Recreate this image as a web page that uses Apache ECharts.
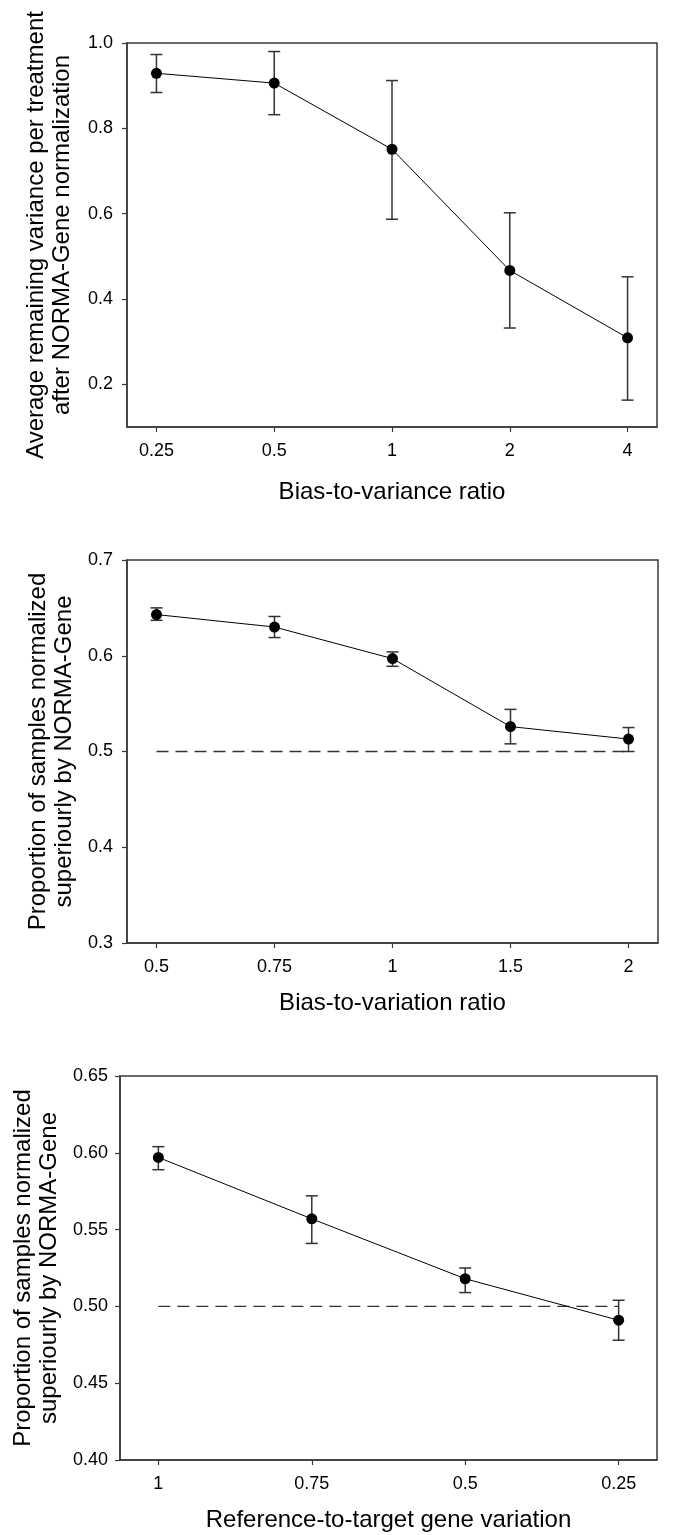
<!DOCTYPE html>
<html><head><meta charset="utf-8">
<script src="https://cdn.jsdelivr.net/npm/echarts@6/dist/echarts.min.js"></script>
<style>html,body{margin:0;padding:0;background:#fff}#c{width:685px;height:1535px}</style>
</head><body><div id="c"></div>
<script>
// Panel 1
const cats1 = ['0.25', '0.5', '1', '2', '4'];
const mean1 = [0.929, 0.906, 0.751, 0.467, 0.309];
const low1  = [0.884, 0.832, 0.587, 0.332, 0.163];
const high1 = [0.973, 0.980, 0.912, 0.602, 0.452];
const yTicks1 = [0.2, 0.4, 0.6, 0.8, 1.0];
// Panel 2
const cats2 = ['0.5', '0.75', '1', '1.5', '2'];
const mean2 = [0.643, 0.630, 0.597, 0.526, 0.513];
const low2  = [0.637, 0.619, 0.589, 0.508, 0.500];
const high2 = [0.650, 0.641, 0.604, 0.544, 0.525];
const yTicks2 = [0.3, 0.4, 0.5, 0.6, 0.7];
// Panel 3
const cats3 = ['1', '0.75', '0.5', '0.25'];
const mean3 = [0.597, 0.557, 0.518, 0.491];
const low3  = [0.589, 0.541, 0.509, 0.478];
const high3 = [0.604, 0.572, 0.525, 0.504];
const yTicks3 = [0.40, 0.45, 0.50, 0.55, 0.60, 0.65];
const refLine = 0.5;

const FONT = "'Liberation Sans', Arial, Helvetica, sans-serif";
const AX = '#3a3a3a';

const panels = [
  {cats: cats1, mean: mean1, low: low1, high: high1, ticks: yTicks1, ymin: 0.1, ymax: 1.0, dec: 1,
   grid: {left: 127, top: 43, width: 530, height: 384}, ref: null,
   yName: 'Average remaining variance per treatment\nafter NORMA-Gene normalization', yGap: 52, yLabM: 14,
   xName: 'Bias-to-variance ratio', xGap: 53},
  {cats: cats2, mean: mean2, low: low2, high: high2, ticks: yTicks2, ymin: 0.3, ymax: 0.7, dec: 1,
   grid: {left: 127, top: 560, width: 531, height: 383}, ref: refLine,
   yName: 'Proportion of samples normalized\nsuperiourly by NORMA-Gene', yGap: 48, yLabM: 14,
   xName: 'Bias-to-variation ratio', xGap: 48},
  {cats: cats3, mean: mean3, low: low3, high: high3, ticks: yTicks3, ymin: 0.40, ymax: 0.65, dec: 2,
   grid: {left: 120, top: 1076, width: 537, height: 384}, ref: refLine,
   yName: 'Proportion of samples normalized\nsuperiourly by NORMA-Gene', yGap: 56, yLabM: 12,
   xName: 'Reference-to-target gene variation', xGap: 48}
];

const grid = [], xAxis = [], yAxis = [], series = [];
panels.forEach((p, i) => {
  grid.push(Object.assign({show: true, borderColor: AX, borderWidth: 1.5, backgroundColor: 'transparent'}, p.grid));
  const idx = p.cats.map((c, k) => k);
  xAxis.push({
    type: 'value', gridIndex: i, min: -0.25, max: p.cats.length - 0.75,
    splitLine: {show: false},
    axisLine: {show: true, onZero: false, lineStyle: {color: AX, width: 1.5}},
    axisTick: {show: true, length: 5, customValues: idx, lineStyle: {color: AX, width: 1.2}},
    axisLabel: {customValues: idx, margin: 15, color: '#000', fontSize: 18, fontFamily: FONT,
      formatter: v => p.cats[Math.round(v)]},
    name: p.xName, nameLocation: 'middle', nameGap: p.xGap,
    nameTextStyle: {color: '#000', fontSize: 24, fontFamily: FONT}
  });
  yAxis.push({
    type: 'value', gridIndex: i, min: p.ymin, max: p.ymax,
    splitLine: {show: false},
    axisLine: {show: true, onZero: false, lineStyle: {color: AX, width: 1.5}},
    axisTick: {show: true, length: 5, customValues: p.ticks, lineStyle: {color: AX, width: 1.2}},
    axisLabel: {customValues: p.ticks, margin: p.yLabM, color: '#000', fontSize: 18, fontFamily: FONT,
      formatter: v => v.toFixed(p.dec)},
    name: p.yName, nameLocation: 'middle', nameGap: p.yGap, nameRotate: 90,
    nameTextStyle: {color: '#000', fontSize: 24, lineHeight: 26, fontFamily: FONT, align: 'center'}
  });
  if (p.ref !== null) {
    series.push({
      type: 'line', xAxisIndex: i, yAxisIndex: i, silent: true, symbol: 'none', z: 1,
      data: [[0, p.ref], [p.cats.length - 1, p.ref]],
      lineStyle: {color: '#333', width: 1.3, type: [12, 7]}
    });
  }
  series.push({
    type: 'custom', xAxisIndex: i, yAxisIndex: i, silent: true, z: 2,
    data: idx.map(k => [k, p.low[k], p.high[k]]),
    encode: {x: 0, y: [1, 2]},
    renderItem: (params, api) => {
      const x = api.value(0);
      const a = api.coord([x, api.value(1)]);
      const b = api.coord([x, api.value(2)]);
      const w = 6;
      const st = {stroke: '#333', lineWidth: 1.5};
      return {type: 'group', children: [
        {type: 'line', shape: {x1: b[0], y1: b[1], x2: a[0], y2: a[1]}, style: st},
        {type: 'line', shape: {x1: b[0] - w, y1: b[1], x2: b[0] + w, y2: b[1]}, style: st},
        {type: 'line', shape: {x1: a[0] - w, y1: a[1], x2: a[0] + w, y2: a[1]}, style: st}
      ]};
    }
  });
  series.push({
    type: 'line', xAxisIndex: i, yAxisIndex: i, z: 3,
    data: idx.map(k => [k, p.mean[k]]),
    symbol: 'circle', symbolSize: 11, showSymbol: true,
    itemStyle: {color: '#000'}, lineStyle: {color: '#000', width: 1}
  });
});

const chart = echarts.init(document.getElementById('c'), null, {renderer: 'canvas'});
chart.setOption({animation: false, backgroundColor: '#fff', grid, xAxis, yAxis, series});
</script></body></html>
